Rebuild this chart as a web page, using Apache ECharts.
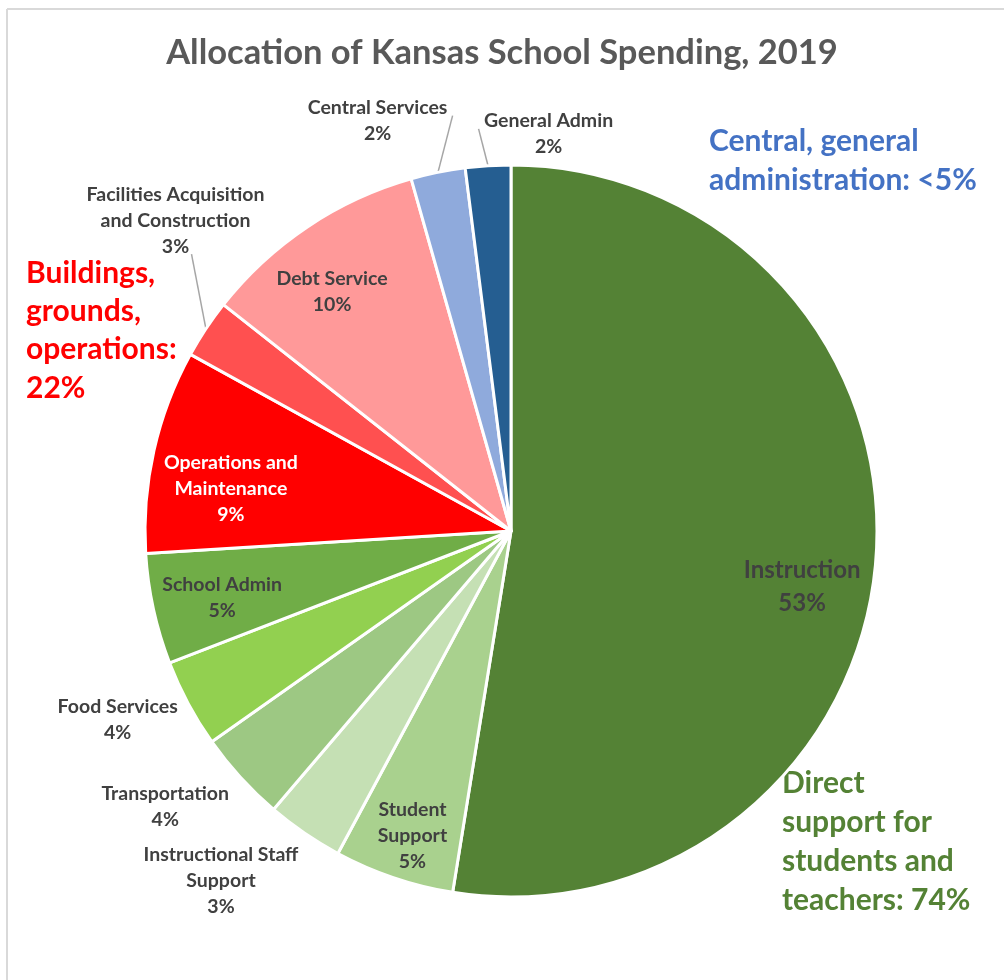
<!DOCTYPE html>
<html><head><meta charset="utf-8">
<script src="https://cdn.jsdelivr.net/npm/echarts@6/dist/echarts.min.js"></script>
<style>html,body{margin:0;padding:0;background:#fff}#c{width:1004px;height:980px}</style>
</head><body><div id="c"></div>
<script>
// ---- data ----
const categories = ['Instruction','Student Support','Instructional Staff Support','Transportation','Food Services','School Admin','Operations and Maintenance','Facilities Acquisition and Construction','Debt Service','Central Services','General Admin'];
const shares = [52.6, 5.3, 3.4, 4.0, 3.9, 4.9, 9.0, 2.6, 10.0, 2.4, 2.0];
const labelNames = ['Instruction','Student\nSupport','Instructional Staff\nSupport','Transportation','Food Services','School Admin','Operations and\nMaintenance','Facilities Acquisition\nand Construction','Debt Service','Central Services','General Admin'];
const titleText = 'Allocation of Kansas School Spending, 2019';
const groupNotes = ['Central, general\nadministration: <5%', 'Buildings,\ngrounds,\noperations:\n22%', 'Direct\nsupport for\nstudents and\nteachers: 74%'];

// ---- styles / layout ----
const colors = ['#548235','#A9D18E','#C5E0B4','#9DC883','#92D050','#70AD47','#FF0000','#FF5050','#FF9999','#8FAADC','#255E91'];
const PIE = {cx: 511, cy: 531, r: 366};
// [radius ratio, angle offset from slice mid-angle (deg)]
const labelPlace = [[0.81,6.3],[0.876,-0.8],[1.242,5.3],[1.208,3.8],[1.192,2.5],[0.81,-0.7],[0.774,-4.1],[1.248,9.2],[0.816,-3],[1.179,-6.5],[1.09,9.0]];
const insideIdx = [0,1,5,6,8];
// leader line start offsets relative to label centre
const leadStart = {7:[16,33], 9:[75,-5], 10:[-70,-5]};
const FONT = 'Lato';

const total = shares.reduce((a,b)=>a+b,0);
let cum = 0;
const mids = shares.map(v => { const a0 = cum/total*360; cum += v; return (a0 + cum/total*360)/2; });
const rad = Math.PI/180;

const data = categories.map((name,i) => {
  const item = {name, value: shares[i], itemStyle:{color: colors[i]}};
  item.label = {position: insideIdx.includes(i) ? 'inside' : 'outside'};
  if (i === 0) { item.label.fontSize = 24; item.label.lineHeight = 33; }
  if (i === 6) { item.label.color = '#FFFFFF'; }
  item.labelLine = {show: leadStart[i] !== undefined};
  return item;
});

const chart = echarts.init(document.getElementById('c'), null, {renderer:'canvas'});
chart.setOption({
  backgroundColor: '#fff',
  animation: false,
  title: {text: titleText, left: 'center', top: 30, textStyle:{fontFamily: FONT, fontWeight:'bold', fontSize: 34.5, color:'#595959'}},
  series: [{
    type: 'pie',
    center: [PIE.cx, PIE.cy],
    radius: PIE.r,
    startAngle: 90,
    clockwise: true,
    avoidLabelOverlap: false,
    itemStyle: {borderColor:'#fff', borderWidth: 3},
    label: {
      show: true, fontFamily: FONT, fontWeight:'bold', fontSize: 19.5, lineHeight: 26, color:'#404040', align:'center', overflow:'none',
      formatter: p => labelNames[p.dataIndex] + '\n' + Math.round(p.value/total*100) + '%'
    },
    labelLine: {lineStyle:{color:'#A6A6A6', width:1.5}, smooth:false},
    labelLayout: function(p){
      const i = p.dataIndex;
      const pl = labelPlace[i];
      const th = (mids[i] + pl[1]) * rad;
      const x = PIE.cx + pl[0]*PIE.r*Math.sin(th);
      const y = PIE.cy - pl[0]*PIE.r*Math.cos(th);
      const res = {x, y, align:'center', verticalAlign:'middle'};
      const ls = leadStart[i];
      if (ls) {
        const e = [PIE.cx + PIE.r*Math.sin(mids[i]*rad), PIE.cy - PIE.r*Math.cos(mids[i]*rad)];
        const s = [x + ls[0], y + ls[1]];
        res.labelLinePoints = [e, s, s];
      }
      return res;
    },
    data
  }],
  graphic: [
    {type:'line', silent:true, shape:{x1:7,y1:9,x2:1004,y2:9}, style:{stroke:'#D9D9D9', lineWidth:2}},
    {type:'line', silent:true, shape:{x1:7,y1:9,x2:7,y2:980}, style:{stroke:'#D9D9D9', lineWidth:2}},
    {type:'text', silent:true, style:{x:709, y:121.5, text: groupNotes[0], font:'bold 30px Lato', fill:'#4472C4', lineHeight:39, textVerticalAlign:'top'}},
    {type:'text', silent:true, style:{x:26, y:254, text: groupNotes[1], font:'bold 30px Lato', fill:'#FF0000', lineHeight:38.3, textVerticalAlign:'top'}},
    {type:'text', silent:true, style:{x:782, y:763.5, text: groupNotes[2], font:'bold 30px Lato', fill:'#548235', lineHeight:39, textVerticalAlign:'top'}}
  ]
});
</script></body></html>
